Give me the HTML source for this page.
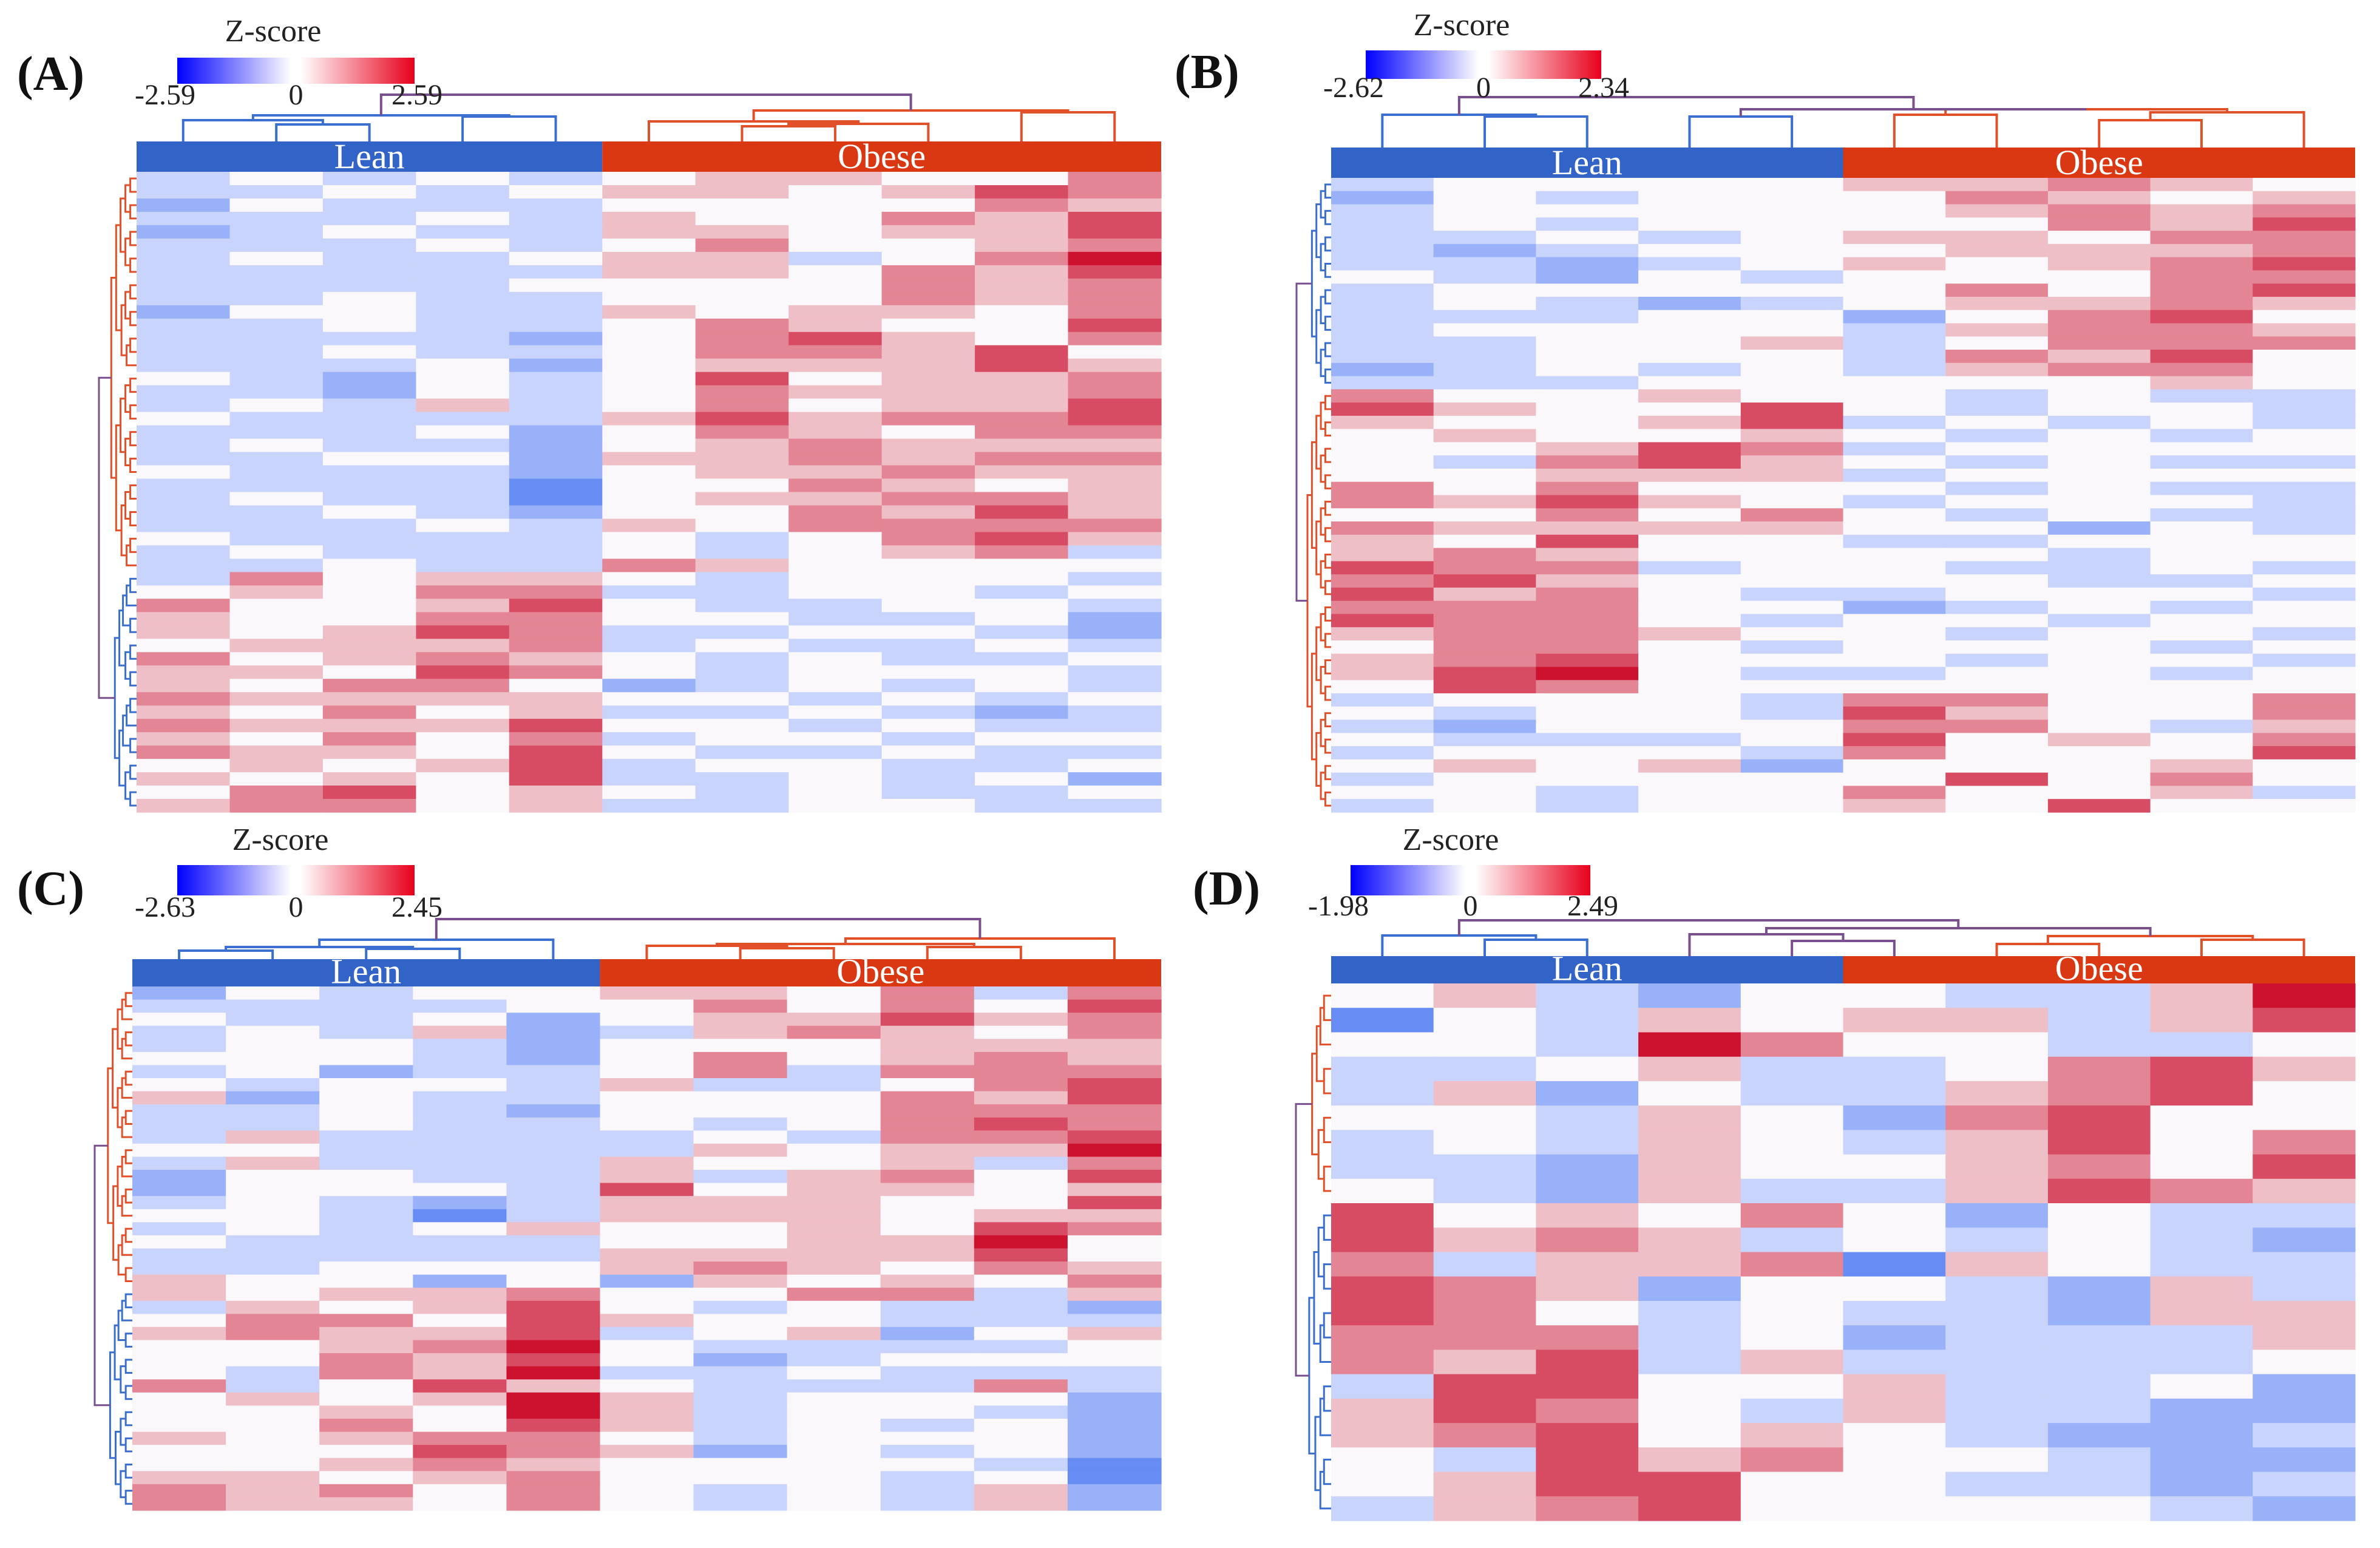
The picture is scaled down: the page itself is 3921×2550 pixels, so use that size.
<!DOCTYPE html>
<html><head><meta charset="utf-8">
<style>
html,body{margin:0;padding:0;background:#fff;}
svg{display:block;}
text{font-family:"Liberation Serif",serif;}
</style></head>
<body>
<svg id="fig" width="3921" height="2550" viewBox="0 0 3921 2550" xmlns="http://www.w3.org/2000/svg">
<defs>
<linearGradient id="cbar" x1="0" x2="1" y1="0" y2="0">
<stop offset="0" stop-color="#0000ff"/><stop offset="0.48" stop-color="#ffffff"/><stop offset="0.52" stop-color="#ffffff"/><stop offset="1" stop-color="#e8001c"/>
</linearGradient>
</defs>
</svg>
<script>
// ---- data (digits 0..8, 4 = z-score 0) ----
const groupLabels = ["Lean", "Obese"];
const panelLetters = ["(A)", "(B)", "(C)", "(D)"];
const ticksA = ["-2.59", "0", "2.59"];
const ticksB = ["-2.62", "0", "2.34"];
const ticksC = ["-2.63", "0", "2.45"];
const ticksD = ["-1.98", "0", "2.49"];
const heatA = [
"34343455446","33434554576","24333444465","33343544657","23433554557","33343464456",
"34334553468","33333554657","33334444656","33433444656","24433545546","33433465447",
"33332467546","33433466574","33342455575","43243474556","33243465556","34353464557",
"43333575667","33342465466","34332456555","33442556566","43332455655","33331446545",
"34331455665","33432446575","33343546666","43333434675","34333434563","33433654444",
"36455434443","45466334434","64457433443","54466443342","54576334432","45556343343",
"64565434334","55476434443","54664234343","65555443434","54645334323","65557443433",
"54646344344","65547433433","45457344334","54547334342","46745434334","56645334433"];
const heatB = [
"3444455654","2434446545","3444445656","3434444657","3343455466","3234445556",
"3323454567","4324344466","3444446467","3432345565","3334424674","3444435665",
"3344534666","3344436574","2343435664","3334444454",
"6445443433","7544743443","5445734343","4544543434","4457634444","4367543433",
"4455534444","6464443433","6575434443","4464643433","6555544243","5474433444",
"5654444344","7663443343","6754444334","7564334443","6664423434","7664344344",
"5665443443","4664344434","5674443443","5784334434","4764444444","3444366446",
"4344375446","3244466435","4333474546","3444364447","4545244454","3444447464",
"4434464453","3434454744"];
const heatC = [
"24344554636","33334464647","43342455756","34352356546","34432444555","44432464565",
"34233463666","43443533467","52433444657","33432444666","33433434676","35333343667",
"44333354558","35333544536","24433535647","24443745545","34323555447","44313555455",
"34345445476","43333445584","33333555574","33444565465","54424254546","54556446635",
"35457434332","46647544333","56557345245","44568433334","44657423444","43658334333",
"63475433363","45458534442","44548534432","44647534342","54566434442","44476524342",
"44565444431","55456444341","65646434352","65546434352"];
const heatD = [
"4532443358","1435455357","4438644334","3345334675","3524335674","4435426744",
"3435435746","3325445647","4325335765","7454642433","7565343432","6355615433",
"7652443253","7643433255","6663423335","6573533334","3774453342","5764353322",
"5674543223","4375644322","4577443323","3567444432"];
// ---- dendrogram structure (not data) ----
const treeA = [[[0,[1,2,205,'b'],198,'b'],[3,4,192,'b'],190,'b'],[[5,[[6,7,208,'r'],8,204,'r'],200,'r'],[9,10,185,'r'],182,'r'],156,'p'];
const treeB = [[0,[1,2,192,'b'],189,'b'],[[3,4,192,'b'],[[5,6,189,'r'],[[7,8,198,'r'],9,185,'r'],180,'r'],180,'p'],160,'p'];
const treeC = [[[[0,1,1566,'b'],[2,3,1563,'b'],1560,'b'],4,1548,'b'],[[[5,[6,7,1562,'r'],1558,'r'],[8,9,1560,'r'],1555,'r'],10,1546,'r'],1514,'p'];
const treeD = [[0,[1,2,1548,'b'],1541,'b'],[[3,[4,5,1550,'p'],1539,'p'],[[6,7,1555,'r'],[8,9,1548,'r'],1542,'r'],1529,'p'],1516,'p'];

const svg = document.getElementById('fig');
const NS = 'http://www.w3.org/2000/svg';
const COLS = {b:'#3a6fd0', r:'#e2502a', p:'#7a4f8e'};
function mk(tag, attrs, parent){
  const e = document.createElementNS(NS, tag);
  for (const k in attrs) e.setAttribute(k, attrs[k]);
  (parent||svg).appendChild(e);
  return e;
}
function cellColor(d){
  const t = (d-4)/4;
  let c;
  if (t < 0){ const s=-t; c=[248+(55-248)*s, 248+(105-248)*s, 255+(240-255)*s]; }
  else { const s=t; c=[250+(205-250)*s, 248+(18-248)*s, 250+(48-250)*s]; }
  return 'rgb('+c.map(v=>Math.round(v)).join(',')+')';
}
function drawPanel(p){
  const g = mk('g', {});
  
  
  const rows = p.data.map(s => s.split('').map(Number));
  const nr = rows.length, nc = rows[0].length;
  const cw = (p.x1-p.x0)/nc, rh = (p.y1-p.y0)/nr;
  const xScale = c => p.x0 + c*cw;
  const yScale = r => p.y0 + r*rh;
  rows.forEach((row, r) => row.forEach((v, c) => {
    const rc = mk('rect', {x:xScale(c).toFixed(1), y:yScale(r).toFixed(1), width:(cw+0.6).toFixed(1), height:(rh+0.6).toFixed(1), fill:cellColor(v)}, g);
    
    
  }));
  const xSplit = xScale(p.nl);
  const lb = mk('rect', {x:p.x0, y:p.barY, width:xSplit-p.x0, height:p.y0-p.barY, fill:'#3264c8'}, g);
  
  
  const ob = mk('rect', {x:xSplit, y:p.barY, width:p.x1-xSplit, height:p.y0-p.barY, fill:'#da3812'}, g);
  
  
  const fs = 58;
  const by = p.y0-(p.y0-p.barY)*0.12;
  const lt = mk('text', {x:(p.x0+xSplit)/2, y:by, 'font-size':fs, fill:'#fff', 'text-anchor':'middle'}, g);
  lt.textContent = groupLabels[0];
  
  
  const ot = mk('text', {x:(xSplit+p.x1)/2, y:by, 'font-size':fs, fill:'#fff', 'text-anchor':'middle'}, g);
  ot.textContent = groupLabels[1];
  
  
  function col(node){
    if (typeof node === 'number') return {x:xScale(node)+cw/2, y:p.barY};
    const a = col(node[0]), b = col(node[1]), y = node[2], c = COLS[node[3]];
    const pl = mk('polyline', {points:`${a.x},${a.y} ${a.x},${y} ${b.x},${y} ${b.x},${b.y}`, fill:'none', stroke:c, 'stroke-width':4}, g);
    
    
    return {x:(a.x+b.x)/2, y:y};
  }
  col(p.tree);
  const total = Math.log2(nr)+1;
  function rowTree(a, b, color){
    if (a === b) return {x:p.x0, y:yScale(a)+rh/2};
    const m = Math.floor((a+b)/2);
    const L = rowTree(a, m, color), R = rowTree(m+1, b, color);
    const size = b-a+1;
    const x = p.x0 - p.dw*0.85*(Math.log2(size)+0.3)/total;
    const nx = Math.min(x, L.x-6, R.x-6);
    const pl = mk('polyline', {points:`${L.x},${L.y} ${nx},${L.y} ${nx},${R.y} ${R.x},${R.y}`, fill:'none', stroke:color, 'stroke-width':3}, g);
    
    
    return {x:nx, y:(L.y+R.y)/2};
  }
  const c1 = rowTree(0, p.split-1, COLS[p.c1]);
  const c2 = rowTree(p.split, nr-1, COLS[p.c2]);
  const rx = p.x0 - p.dw;
  const rl = mk('polyline', {points:`${c1.x},${c1.y} ${rx},${c1.y} ${rx},${c2.y} ${c2.x},${c2.y}`, fill:'none', stroke:COLS.p, 'stroke-width':3}, g);
  
  
  const cb = mk('rect', {x:p.cbx0, y:p.cby0, width:p.cbx1-p.cbx0, height:p.cby1-p.cby0, fill:'url(#cbar)'}, g);
  
  
  const zt = mk('text', {x:p.zx, y:p.zy, 'font-size':52, fill:'#222', 'text-anchor':'middle'}, g);
  zt.textContent = 'Z-score';
  
  
  const tx = [p.cbx0-20, (p.cbx0+p.cbx1)/2, p.cbx1+4];
  p.ticks.forEach((t, i) => {
    const te = mk('text', {x:tx[i], y:p.ty, 'font-size':48, fill:'#222', 'text-anchor':'middle'}, g);
    te.textContent = t;
    
    
  });
  const le = mk('text', {x:p.lx, y:p.ly, 'font-size':80, 'font-weight':'bold', fill:'#111'}, g);
  le.textContent = p.letter;
  
  
}
drawPanel({name:'panel-a', data:heatA, tree:treeA, x0:225, x1:1913, y0:283, y1:1338, barY:233, nl:5, split:30, c1:'r', c2:'b', dw:62,
  cbx0:292, cbx1:683, cby0:95, cby1:138, zx:450, zy:68, ty:172, ticks:ticksA, letter:panelLetters[0], lx:28, ly:148});
drawPanel({name:'panel-b', data:heatB, tree:treeB, x0:2193, x1:3880, y0:293, y1:1338, barY:243, nl:5, split:16, c1:'b', c2:'r', dw:57,
  cbx0:2250, cbx1:2638, cby0:83, cby1:130, zx:2408, zy:58, ty:160, ticks:ticksB, letter:panelLetters[1], lx:1935, ly:145});
drawPanel({name:'panel-c', data:heatC, tree:treeC, x0:218, x1:1913, y0:1625, y1:2488, barY:1580, nl:5, split:23, c1:'r', c2:'b', dw:62,
  cbx0:292, cbx1:683, cby0:1425, cby1:1475, zx:462, zy:1400, ty:1510, ticks:ticksC, letter:panelLetters[2], lx:28, ly:1490});
drawPanel({name:'panel-d', data:heatD, tree:treeD, x0:2193, x1:3880, y0:1620, y1:2505, barY:1575, nl:5, split:9, c1:'r', c2:'b', dw:58,
  cbx0:2225, cbx1:2620, cby0:1425, cby1:1475, zx:2390, zy:1400, ty:1508, ticks:ticksD, letter:panelLetters[3], lx:1965, ly:1490});
</script>
</body></html>
